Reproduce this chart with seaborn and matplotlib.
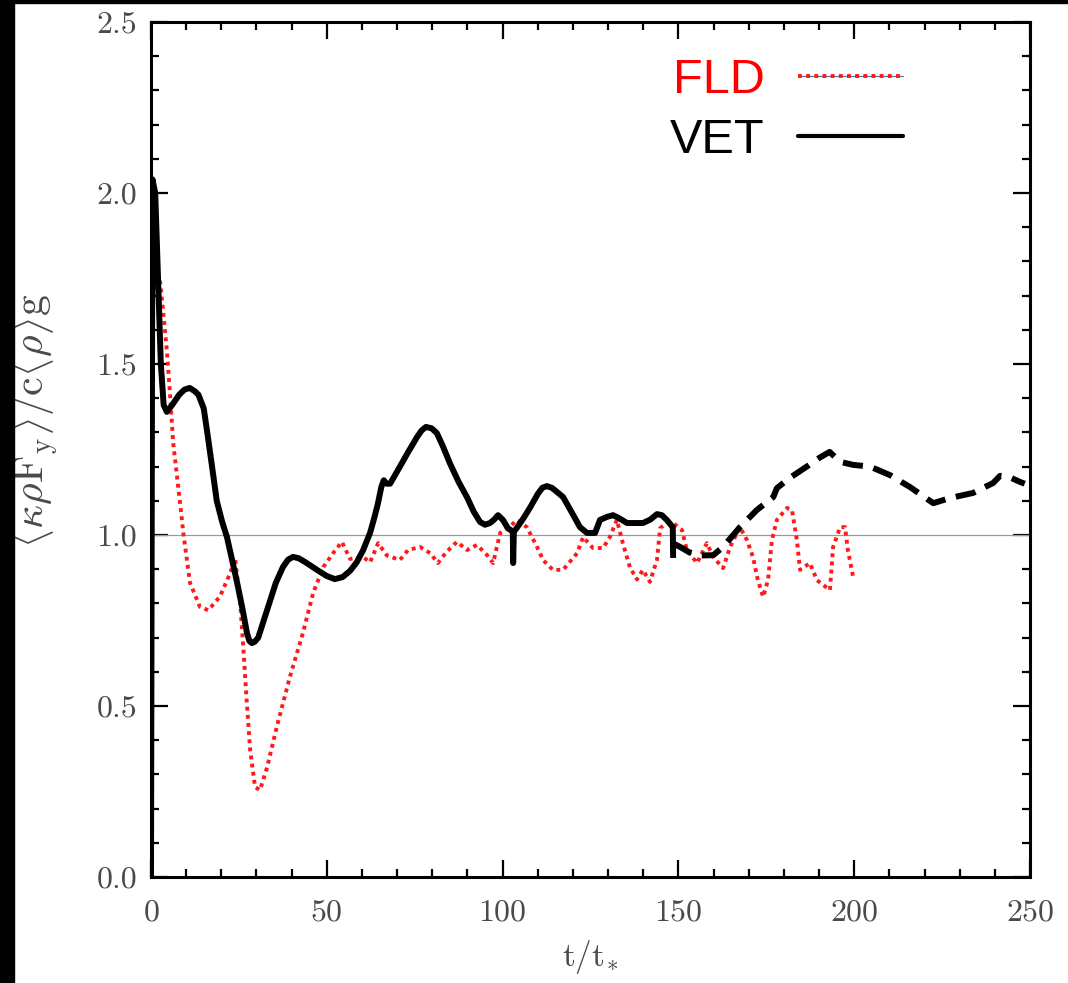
import numpy as np
import pandas as pd
import matplotlib
matplotlib.use("Agg")
import matplotlib.pyplot as plt
from matplotlib.lines import Line2D
from matplotlib.patches import Rectangle
from matplotlib.ticker import MultipleLocator, FormatStrFormatter
import seaborn as sns

# ---- data: normalised radiative force vs time ----
fld_t = [0, 0.3, 1.5, 2.6, 3.5, 4.5, 5.5, 6.3, 7.3, 8.2, 9.2, 11.1, 13.9, 16.3,
         19.6, 22.5, 23.9, 25.3, 26.3, 27.2, 28.2, 29.6, 31.0, 33.0, 35.8, 39.5,
         43.2, 46.1, 49.0, 51.8, 54.3, 56.6, 60.3, 62.3, 64.6, 67.1, 70.8, 73.1,
         76.5, 79.4, 81.6, 84.0, 87.0, 89.9, 92.7, 95.6, 97.3, 99.3, 102.0,
         104.0, 106.9, 109.8, 111.5, 114.3, 117.2, 121.2, 122.9, 125.7, 128.6,
         130.5, 132.5, 134.2, 136.2, 138.2, 139.9, 141.9, 143.9, 144.8, 146.7,
         148.5, 151.0, 152.4, 155.3, 158.1, 159.9, 162.7, 164.7, 167.5, 169.5,
         171.2, 172.6, 174.1, 175.5, 176.6, 178.0, 180.9, 182.3, 183.7, 184.6,
         187.4, 189.4, 193.1, 194.0, 196.0, 197.4, 198.2, 199.7]
fld_y = [0.0, 1.70, 1.73, 1.74, 1.65, 1.54, 1.40, 1.27, 1.18, 1.10, 1.005, 0.86,
         0.79, 0.78, 0.82, 0.888, 0.932, 0.81, 0.664, 0.517, 0.371, 0.263,
         0.254, 0.32, 0.44, 0.585, 0.713, 0.83, 0.906, 0.947, 0.98, 0.93,
         0.936, 0.92, 0.976, 0.94, 0.927, 0.956, 0.965, 0.947, 0.918, 0.95,
         0.98, 0.956, 0.971, 0.941, 0.918, 1.006, 1.023, 1.044, 1.023, 0.965,
         0.927, 0.898, 0.898, 0.947, 0.994, 0.962, 0.962, 0.994, 1.044, 0.976,
         0.906, 0.87, 0.898, 0.863, 0.927, 1.02, 1.035, 1.035, 1.015, 0.956,
         0.918, 0.976, 0.936, 0.903, 0.965, 1.023, 0.985, 0.936, 0.868, 0.819,
         0.868, 0.985, 1.044, 1.079, 1.073, 0.985, 0.898, 0.918, 0.868, 0.839,
         0.965, 1.023, 1.023, 0.956, 0.877]

# VET run (solid) and its continuation (dashed)
vet_t = [0, 0.4, 1.2, 2.0, 2.8, 3.6, 4.5, 6.0, 8.0, 9.5, 11.0, 12.5, 13.5, 15.0,
         16.0, 17.5, 18.7, 20.2, 21.6, 23.0, 24.5, 26.0, 27.3, 28.0, 28.7,
         29.5, 30.5, 33.0, 35.5, 37.5, 39.0, 40.4, 42.0, 44.0, 47.2, 50.0,
         52.3, 54.5, 56.6, 58.5, 60.3, 62.3, 63.5, 64.5, 65.5, 66.2, 67.0,
         68.0, 70.8, 73.0, 75.7, 77.0, 78.2, 79.8, 81.3, 83.0, 85.0, 87.5,
         89.9, 91.8, 93.6, 95.0, 96.4, 97.6, 98.7, 100.1, 101.5, 102.9, 103.0,
         103.2, 104.0, 106.0, 107.8, 110.0, 111.3, 112.6, 114.0, 115.0, 117.2,
         120.0, 122.0, 124.0, 126.3, 127.7, 129.7, 131.4, 133.0, 135.4, 139.9,
         142.0, 143.9, 145.3, 146.7, 148.4, 148.5]
vet_y = [0.0, 2.04, 2.0, 1.75, 1.5, 1.38, 1.36, 1.38, 1.41, 1.425, 1.43, 1.42,
         1.41, 1.37, 1.30, 1.19, 1.10, 1.04, 0.994, 0.93, 0.86, 0.785, 0.713,
         0.69, 0.684, 0.688, 0.70, 0.78, 0.86, 0.906, 0.928, 0.936, 0.932, 0.92,
         0.898, 0.88, 0.871, 0.877, 0.895, 0.92, 0.955, 1.006, 1.05, 1.09,
         1.14, 1.16, 1.15, 1.15, 1.20, 1.24, 1.287, 1.306, 1.316, 1.312, 1.298,
         1.26, 1.21, 1.155, 1.11, 1.068, 1.038, 1.03, 1.035, 1.045, 1.058,
         1.044, 1.02, 1.01, 0.918, 1.01, 1.02, 1.05, 1.08, 1.12, 1.138, 1.143,
         1.138, 1.13, 1.111, 1.06, 1.023, 1.006, 1.006, 1.044, 1.053, 1.058,
         1.05, 1.035, 1.035, 1.045, 1.061, 1.058, 1.044, 1.023, 0.933]
vet_ext_t = [148.6, 150.5, 153.0, 156.0, 159.9, 162.7, 167.5, 172.3, 177.0,
             178.0, 181.7, 186.5, 190.0, 193.0, 196.0, 199.7, 204.5, 210.2,
             215.9, 222.5, 227.2, 233.8, 239.5, 241.5, 244.0, 247.2, 248.5]
vet_ext_y = [0.975, 0.965, 0.95, 0.94, 0.941, 0.965, 1.023, 1.073, 1.111,
             1.137, 1.167, 1.20, 1.225, 1.243, 1.214, 1.205, 1.20, 1.175,
             1.14, 1.093, 1.108, 1.123, 1.152, 1.173, 1.17, 1.155, 1.15]

series_labels = ["FLD", "VET"]
x_ticks = [0, 50, 100, 150, 200, 250]
y_ticks = [0.0, 0.5, 1.0, 1.5, 2.0, 2.5]

# ---- style ----
sns.set_theme(style="ticks")
plt.rcParams["font.family"] = ["cmr10", "DejaVu Serif"]
plt.rcParams["mathtext.fontset"] = "cm"
plt.rcParams["axes.formatter.use_mathtext"] = True

W, H = 1068, 983
fig = plt.figure(figsize=(W / 100, H / 100), dpi=100)
ax = fig.add_axes([151 / W, 1 - 877 / H, (1030 - 151) / W, (877 - 22) / H])

gray_txt = "#4a4a4a"
red = "#ff1a1a"
fld_dots = (0, (1.0, 1.1))

ax.axhline(1.0, color="#9a9a9a", lw=0.9, zorder=1)

sns.lineplot(x=fld_t, y=fld_y, ax=ax, sort=False, estimator=None,
             color=red, linewidth=2.8, linestyle=fld_dots, zorder=3)
sns.lineplot(x=vet_t, y=vet_y, ax=ax, sort=False, estimator=None,
             color="black", linewidth=4.3, linestyle="-", zorder=4,
             solid_joinstyle="round", solid_capstyle="butt")
sns.lineplot(x=vet_ext_t, y=vet_ext_y, ax=ax, sort=False, estimator=None,
             color="black", linewidth=4.3, linestyle=(0, (3.4, 1.8)), zorder=4)

ax.set_xlim(0, 250)
ax.set_ylim(0, 2.5)
ax.set_xticks(x_ticks)
ax.set_yticks(y_ticks)
ax.xaxis.set_minor_locator(MultipleLocator(10))
ax.yaxis.set_minor_locator(MultipleLocator(0.1))
ax.yaxis.set_major_formatter(FormatStrFormatter("%.1f"))
ax.tick_params(which="both", direction="in", top=True, right=True,
               color="black", width=1.6)
ax.tick_params(which="major", length=12, labelsize=23, labelcolor=gray_txt)
ax.tick_params(which="minor", length=6)
ax.tick_params(axis="x", which="major", pad=16)
ax.tick_params(axis="y", which="major", pad=10)
for s in ax.spines.values():
    s.set_linewidth(2.2)
    s.set_color("black")

ax.set_xlabel(r"$\mathrm{t/t_{*}}$", fontsize=24, color=gray_txt, labelpad=8)
ax.set_ylabel(r"$\langle\kappa\rho\mathrm{F_y}\rangle/\mathrm{c}\langle\rho\rangle\mathrm{g}$",
              fontsize=30, color=gray_txt)
ax.yaxis.set_label_coords(-0.103, 0.534)

# legend: label text on the left of the line sample
fld_handle = (Line2D([], [], color="#4a6fa5", lw=0.8),
              Line2D([], [], color=red, lw=2.8, linestyle=fld_dots))
vet_handle = Line2D([], [], color="black", lw=3.0)
leg = ax.legend([fld_handle, vet_handle], series_labels, loc="upper right",
                bbox_to_anchor=((903 - 151) / 879, (877 - 58) / 855),
                frameon=False, markerfirst=False, borderpad=0, borderaxespad=0,
                handlelength=2.15, handletextpad=0.7, labelspacing=0.3,
                prop={"family": "Liberation Sans", "size": 35})
for txt, col in zip(leg.get_texts(), ["#ff0000", "black"]):
    txt.set_color(col)

# dark framing strips along the left and top edges
fig.add_artist(Rectangle((0, 0), 14 / W, 1, transform=fig.transFigure,
                         color="black", zorder=10))
fig.add_artist(Rectangle((0, 1 - 3 / H), 1, 3 / H, transform=fig.transFigure,
                         color="black", zorder=10))

fig.savefig("out.png", dpi=100)
